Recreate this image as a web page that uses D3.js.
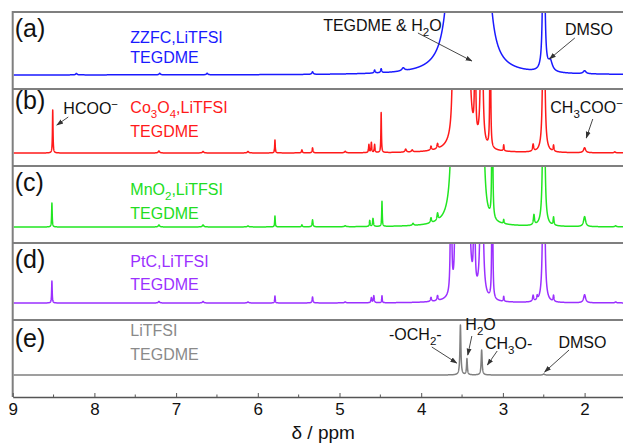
<!DOCTYPE html>
<html><head><meta charset="utf-8">
<script src="https://cdn.jsdelivr.net/npm/d3@7"></script>
<style>
body{margin:0;background:#fff}
svg{display:block}
text{font-family:"Liberation Sans",Arial,sans-serif}
</style>
</head><body>
<svg id="chart" width="623" height="445"></svg>
<script>
// ---------------- DATA ----------------
const xTicks = [9, 8, 7, 6, 5, 4, 3, 2];
const xMinorTicks = [8.5, 7.5, 6.5, 5.5, 4.5, 3.5, 2.5];
const panelLetters = ["(a)", "(b)", "(c)", "(d)", "(e)"];
const sampleLine1 = ["ZZFC,LiTFSI", "Co_3O_4,LiTFSI", "MnO_2,LiTFSI", "PtC,LiTFSI", "LiTFSI"];
const sampleLine2 = ["TEGDME", "TEGDME", "TEGDME", "TEGDME", "TEGDME"];
const axisTitle = "δ / ppm";

// peak lists: [shift (ppm), height (a.u.), half-width (ppm)]
const peaksA = [[8.22,1.5,0.01],[7.20,1.5,0.01],[6.62,1.5,0.01],[5.33,2.5,0.01],[4.57,3,0.008],[4.49,4,0.008],
  [4.22,3,0.02],[3.56,1410,0.0316],[3.26,970,0.0316],[2.50,390,0.008],[2.42,10,0.03],[2.00,3,0.02]];
const peaksB = [[8.51,43,0.004],[7.21,2,0.01],[6.67,1.5,0.01],[6.12,1.5,0.01],[5.79,13,0.004],[5.46,3,0.006],
  [5.33,5,0.006],[4.93,1.5,0.01],[4.64,8,0.005],[4.61,10,0.005],[4.57,8,0.005],[4.49,40,0.004],[4.19,3,0.01],
  [4.11,2,0.01],[3.88,4,0.008],[3.80,5,0.008],[3.60,300,0.01],[3.50,480,0.025],[3.43,250,0.0155],[3.34,150,0.006],
  [3.26,400,0.008],[3.155,250,0.004],[2.99,6,0.005],[2.63,7,0.008],[2.50,390,0.008],[2.38,6,0.006],[2.00,5,0.015],[1.63,1,0.01]];
const peaksC = [[8.52,24,0.004],[7.21,2,0.01],[6.67,2,0.01],[6.12,1,0.01],[5.79,11,0.004],[5.46,2,0.006],
  [5.33,7,0.006],[4.93,1,0.01],[4.63,6,0.005],[4.59,8,0.006],[4.48,25,0.004],[4.10,2,0.01],[3.88,5,0.008],
  [3.80,7,0.008],[3.60,300,0.02],[3.50,333,0.03],[3.43,200,0.018],[3.34,200,0.012],[3.26,400,0.015],[3.13,300,0.004],
  [2.99,4,0.005],[2.62,10,0.008],[2.50,390,0.008],[2.38,8,0.006],[2.00,10,0.015],[1.62,1,0.01]];
const peaksD = [[8.52,22,0.004],[7.21,1.5,0.01],[6.67,1.5,0.01],[6.12,1,0.01],[5.79,7,0.004],[5.33,6,0.006],
  [4.93,1,0.01],[4.61,5,0.006],[4.58,7,0.006],[4.48,7,0.004],[3.88,4,0.008],[3.80,5,0.008],[3.635,300,0.005],
  [3.58,300,0.005],[3.51,300,0.02],[3.43,300,0.015],[3.35,200,0.006],[3.26,400,0.01],[3.13,300,0.004],
  [2.99,5,0.005],[2.63,6,0.008],[2.58,4,0.006],[2.50,390,0.008],[2.38,6,0.006],[2.00,8,0.015],[1.62,1,0.01]];
const peaksE = [[3.52,50,0.007],[3.44,16,0.006],[3.26,25,0.007],[2.50,1,0.01]];

// ---------------- STYLE / LAYOUT ----------------
const seriesPeaks = [peaksA, peaksB, peaksC, peaksD, peaksE];
const seriesColors = ["#1a1aff", "#ff1a1a", "#22e622", "#9b30ff", "#808080"];
const labelColors  = ["#1a1aff", "#ff1a1a", "#22dd22", "#9b30ff", "#8a8a8a"];
const W = 623, H = 445;
const left = 12.7, top0 = 12, panelH = 77, nPanels = 5;
const baseOffsets = [14, 13, 16, 17, 22]; // baseline distance from panel bottom (px)
const frameColor = "#7f7f7f";

const svg = d3.select("#chart");
const x = d3.scaleLinear().domain([9, 1.5]).range([left, left + 7.5 * 81.7]);

const panels = d3.range(nPanels).map(i => {
  const t = top0 + i * panelH, b = t + panelH;
  const y = d3.scaleLinear().domain([-baseOffsets[i], panelH - baseOffsets[i]]).range([b, t]);
  return {i, t, b, y};
});

// defs: clip paths and arrow marker
const defs = svg.append("defs");
panels.forEach(p => {
  defs.append("clipPath").attr("id", "clip" + p.i)
    .append("rect").attr("x", left + 1).attr("y", p.t + 1).attr("width", W).attr("height", panelH - 2);
});
defs.append("marker").attr("id", "arr").attr("viewBox", "0 0 10 10").attr("refX", 9).attr("refY", 5)
  .attr("markerWidth", 7).attr("markerHeight", 7).attr("orient", "auto-start-reverse")
  .attr("markerUnits", "userSpaceOnUse")
  .append("path").attr("d", "M0,1.5 L10,5 L0,8.5 z").attr("fill", "#333");

// spectra
const grid = d3.range(0, 7601).map(k => 9.02 - k * 0.001);
function intensity(peaks, v) {
  let s = 0;
  for (const [c, h, w] of peaks) s += h * w * w / ((v - c) * (v - c) + w * w);
  return s;
}
panels.forEach(p => {
  const pts = grid.map(v => [v, Math.min(intensity(seriesPeaks[p.i], v), 150)]);
  const line = d3.line().x(d => x(d[0])).y(d => p.y(d[1]));
  svg.append("path").datum(pts).attr("clip-path", `url(#clip${p.i})`)
    .attr("d", line).attr("fill", "none").attr("stroke", seriesColors[p.i])
    .attr("stroke-width", 1.5).attr("stroke-linejoin", "round");
});

// frame
const frame = svg.append("g").attr("stroke", frameColor).attr("stroke-width", 2);
panels.forEach(p => {
  frame.append("line").attr("x1", left).attr("x2", W + 5).attr("y1", p.t).attr("y2", p.t);
});
frame.append("line").attr("x1", left).attr("x2", left).attr("y1", top0 - 1).attr("y2", top0 + nPanels * panelH);

// x axis
const yAxis = top0 + nPanels * panelH;
const axis = d3.axisBottom(x).tickValues(xTicks).tickFormat(d3.format("d"))
  .tickSizeInner(-4).tickSizeOuter(0).tickPadding(6);
const gAx = svg.append("g").attr("transform", `translate(0,${yAxis})`).call(axis);
gAx.select(".domain").attr("stroke", "#555").attr("stroke-width", 1.5);
gAx.selectAll(".tick line").attr("stroke", "#555").attr("stroke-width", 1);
gAx.selectAll(".tick text").attr("font-size", 17).attr("fill", "#111")
  .attr("font-family", "'Liberation Sans', Arial, sans-serif");
gAx.selectAll(".minor").data(xMinorTicks).enter().append("line").attr("class", "minor")
  .attr("x1", d => x(d)).attr("x2", d => x(d)).attr("y1", 0).attr("y2", -2.5)
  .attr("stroke", "#555").attr("stroke-width", 1);
svg.append("text").attr("x", x(5.2)).attr("y", 439).attr("text-anchor", "middle")
  .attr("font-size", 19).attr("fill", "#111").text(axisTitle);

// rich text helper: _x subscript, ^x superscript
function rich(sel, str, size) {
  const re = /([_^])(.)/g; let last = 0, m; const parts = [];
  while ((m = re.exec(str))) {
    if (m.index > last) parts.push({t: str.slice(last, m.index), s: 0});
    parts.push({t: m[2], s: m[1] === "_" ? 1 : -1}); last = re.lastIndex;
  }
  if (last < str.length) parts.push({t: str.slice(last), s: 0});
  let cur = 0;
  parts.forEach(pt => {
    const target = pt.s === 1 ? size * 0.32 : pt.s === -1 ? -size * 0.38 : 0;
    sel.append("tspan").attr("dy", target - cur).attr("font-size", pt.s ? size * 0.72 : size).text(pt.t);
    cur = target;
  });
}

// panel letters and sample labels
const letterBase = [25, 20, 25, 25, 27];
const line1Base = [31, 24, 29, 24, 16];
const line2Gap = [20, 24, 24, 23, 24];
panels.forEach(p => {
  svg.append("text").attr("x", left + 2).attr("y", p.t + letterBase[p.i])
    .attr("font-family", "Lato, 'Open Sans', sans-serif").attr("font-size", 25).attr("fill", "#111")
    .text(panelLetters[p.i]);
  const t1 = svg.append("text").attr("x", x(7.56)).attr("y", p.t + line1Base[p.i])
    .attr("fill", labelColors[p.i]).attr("font-size", 16);
  rich(t1, sampleLine1[p.i], 16);
  svg.append("text").attr("x", x(7.56)).attr("y", p.t + line1Base[p.i] + line2Gap[p.i])
    .attr("fill", labelColors[p.i]).attr("font-size", 16).text(sampleLine2[p.i]);
});

// annotations (in data coordinates: ppm, intensity of the panel)
const notes = [
  {p: 0, text: "TEGDME & H_2O", at: [5.20, 44], anchor: "start", from: [4.04, 42], to: [3.38, 14]},
  {p: 0, text: "DMSO", at: [2.24, 40], anchor: "start", from: [2.12, 37], to: [2.43, 16]},
  {p: 1, text: "HCOO^−", at: [8.38, 39], anchor: "start", from: [8.32, 36], to: [8.46, 28]},
  {p: 1, text: "CH_3COO^−", at: [2.42, 40], anchor: "start", from: [1.90, 34], to: [1.98, 15]},
  {p: 4, text: "-OCH_2-", at: [3.75, 35], anchor: "end", from: [3.87, 28], to: [3.565, 12]},
  {p: 4, text: "H_2O", at: [3.46, 45], anchor: "start", from: [3.38, 39], to: [3.43, 20]},
  {p: 4, text: "CH_3O-", at: [3.22, 26], anchor: "start", from: [3.07, 24], to: [3.19, 10]},
  {p: 4, text: "DMSO", at: [2.32, 27], anchor: "start", from: [2.19, 25], to: [2.49, 3]}
];
notes.forEach(n => {
  const p = panels[n.p];
  const t = svg.append("text").attr("x", x(n.at[0])).attr("y", p.y(n.at[1]))
    .attr("text-anchor", n.anchor).attr("fill", "#111").attr("font-size", 16);
  rich(t, n.text, 16);
  svg.append("line").attr("x1", x(n.from[0])).attr("y1", p.y(n.from[1]))
    .attr("x2", x(n.to[0])).attr("y2", p.y(n.to[1]))
    .attr("stroke", "#333").attr("stroke-width", 0.9).attr("marker-end", "url(#arr)");
});
</script>
</body></html>
